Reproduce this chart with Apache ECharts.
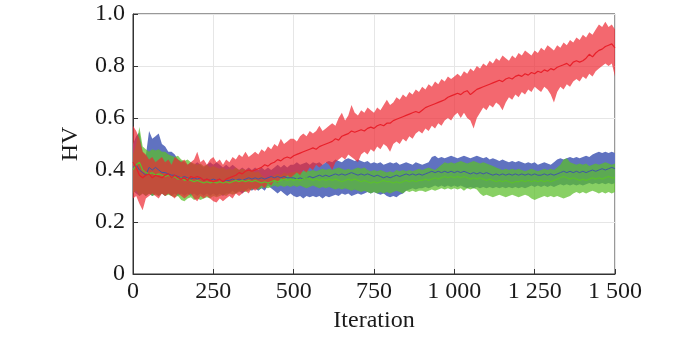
<!DOCTYPE html>
<html>
<head>
<meta charset="utf-8">
<script src="https://cdn.jsdelivr.net/npm/echarts@6/dist/echarts.min.js"></script>
<style>html,body{margin:0;padding:0;background:#fff;}#c{width:700px;height:338px;}</style>
</head>
<body>
<div id="c"></div>
<script>
// Sampling step of the iteration axis (one value every 10 iterations, 0..1500)
const iterStep = 10;
const xTicks = [0, 250, 500, 750, 1000, 1250, 1500];
const yTicks = [0, 0.2, 0.4, 0.6, 0.8, 1.0];

// Red series: upper bound, mean, lower bound
const redHi = [
0.57,0.55,0.52,0.47,0.46,0.44,0.45,0.43,0.44,0.45,
0.43,0.44,0.42,0.45,0.44,0.43,0.44,0.42,0.43,0.44,
0.47,0.43,0.44,0.42,0.44,0.45,0.43,0.44,0.42,0.44,
0.43,0.45,0.44,0.46,0.45,0.47,0.45,0.46,0.47,0.46,
0.48,0.47,0.49,0.48,0.50,0.49,0.52,0.50,0.51,0.52,
0.52,0.51,0.53,0.54,0.53,0.55,0.54,0.55,0.57,0.55,
0.56,0.57,0.58,0.57,0.60,0.62,0.59,0.61,0.65,0.62,
0.61,0.63,0.62,0.64,0.63,0.62,0.64,0.63,0.65,0.67,
0.65,0.66,0.68,0.67,0.69,0.68,0.70,0.69,0.71,0.70,
0.72,0.71,0.73,0.72,0.74,0.73,0.75,0.74,0.76,0.75,
0.76,0.77,0.76,0.78,0.77,0.79,0.78,0.80,0.79,0.81,
0.80,0.82,0.81,0.83,0.82,0.84,0.83,0.82,0.84,0.83,
0.85,0.84,0.86,0.85,0.84,0.86,0.85,0.87,0.86,0.88,
0.87,0.86,0.88,0.87,0.89,0.88,0.90,0.89,0.91,0.90,
0.92,0.91,0.93,0.92,0.94,0.96,0.95,0.97,0.95,0.96,
0.94];
const redMid = [
0.43,0.41,0.38,0.37,0.38,0.385,0.37,0.38,0.375,0.37,
0.38,0.385,0.37,0.38,0.37,0.365,0.37,0.36,0.375,0.37,
0.375,0.37,0.36,0.365,0.36,0.355,0.36,0.365,0.355,0.365,
0.37,0.375,0.38,0.39,0.385,0.395,0.40,0.395,0.40,0.405,
0.41,0.42,0.415,0.425,0.43,0.44,0.435,0.445,0.45,0.445,
0.455,0.46,0.465,0.47,0.475,0.48,0.485,0.48,0.49,0.495,
0.50,0.505,0.51,0.52,0.515,0.53,0.535,0.54,0.55,0.545,
0.55,0.555,0.55,0.56,0.565,0.56,0.57,0.575,0.57,0.58,
0.58,0.59,0.595,0.60,0.605,0.61,0.615,0.62,0.625,0.62,
0.63,0.64,0.645,0.65,0.655,0.66,0.665,0.67,0.68,0.685,
0.69,0.695,0.69,0.70,0.705,0.69,0.70,0.71,0.715,0.72,
0.725,0.73,0.735,0.74,0.745,0.74,0.75,0.755,0.75,0.76,
0.765,0.76,0.77,0.765,0.775,0.77,0.78,0.775,0.785,0.78,
0.79,0.785,0.795,0.80,0.805,0.81,0.80,0.815,0.82,0.815,
0.82,0.83,0.845,0.835,0.85,0.86,0.865,0.875,0.88,0.885,
0.87];
const redLo = [
0.29,0.30,0.27,0.245,0.29,0.30,0.31,0.30,0.29,0.31,
0.30,0.31,0.30,0.29,0.31,0.30,0.29,0.30,0.31,0.29,
0.28,0.30,0.29,0.30,0.29,0.28,0.275,0.29,0.28,0.29,
0.30,0.29,0.31,0.30,0.31,0.32,0.31,0.33,0.32,0.33,
0.34,0.33,0.35,0.34,0.36,0.35,0.37,0.36,0.38,0.37,
0.38,0.39,0.38,0.40,0.39,0.41,0.40,0.42,0.41,0.42,
0.43,0.42,0.40,0.43,0.44,0.45,0.44,0.46,0.45,0.44,
0.43,0.46,0.47,0.46,0.48,0.47,0.49,0.48,0.50,0.49,
0.47,0.50,0.51,0.50,0.52,0.51,0.53,0.52,0.54,0.55,
0.54,0.56,0.55,0.57,0.56,0.58,0.57,0.59,0.60,0.59,
0.61,0.62,0.60,0.62,0.60,0.59,0.56,0.60,0.62,0.64,
0.63,0.65,0.64,0.66,0.65,0.63,0.66,0.68,0.67,0.69,
0.68,0.70,0.69,0.71,0.70,0.72,0.71,0.70,0.72,0.71,
0.69,0.66,0.70,0.72,0.71,0.73,0.72,0.74,0.75,0.74,
0.76,0.75,0.77,0.76,0.78,0.79,0.80,0.81,0.80,0.81,
0.76];

// Blue series
const blueHi = [
0.50,0.53,0.545,0.47,0.455,0.55,0.52,0.53,0.54,0.50,
0.49,0.47,0.47,0.46,0.44,0.435,0.43,0.42,0.43,0.42,
0.43,0.42,0.41,0.42,0.43,0.42,0.43,0.42,0.41,0.42,
0.41,0.42,0.41,0.40,0.41,0.40,0.41,0.40,0.41,0.40,
0.41,0.40,0.41,0.40,0.41,0.42,0.41,0.42,0.41,0.42,
0.42,0.43,0.42,0.425,0.43,0.42,0.43,0.425,0.43,0.42,
0.43,0.435,0.43,0.44,0.435,0.43,0.44,0.445,0.44,0.435,
0.44,0.435,0.43,0.435,0.425,0.43,0.425,0.43,0.42,0.425,
0.43,0.425,0.43,0.42,0.425,0.43,0.425,0.42,0.43,0.425,
0.42,0.425,0.43,0.45,0.455,0.445,0.45,0.445,0.45,0.455,
0.45,0.445,0.45,0.455,0.45,0.445,0.45,0.455,0.45,0.445,
0.45,0.44,0.445,0.44,0.435,0.44,0.435,0.43,0.435,0.43,
0.435,0.43,0.425,0.43,0.425,0.43,0.42,0.425,0.43,0.425,
0.42,0.43,0.44,0.445,0.44,0.445,0.45,0.445,0.45,0.445,
0.45,0.455,0.45,0.46,0.465,0.47,0.465,0.47,0.465,0.47,
0.465];
const blueMid = [
0.41,0.42,0.40,0.39,0.38,0.41,0.40,0.41,0.40,0.39,
0.39,0.385,0.38,0.38,0.375,0.37,0.375,0.37,0.365,0.37,
0.365,0.37,0.36,0.365,0.36,0.365,0.36,0.365,0.355,0.36,
0.36,0.365,0.36,0.365,0.36,0.365,0.37,0.365,0.37,0.365,
0.37,0.365,0.37,0.375,0.37,0.375,0.37,0.375,0.37,0.37,
0.37,0.365,0.37,0.365,0.37,0.375,0.37,0.375,0.38,0.375,
0.38,0.375,0.38,0.385,0.38,0.385,0.38,0.385,0.39,0.385,
0.38,0.385,0.38,0.385,0.38,0.375,0.38,0.375,0.37,0.375,
0.37,0.375,0.38,0.375,0.38,0.385,0.38,0.385,0.38,0.385,
0.38,0.385,0.39,0.395,0.39,0.395,0.39,0.395,0.39,0.395,
0.39,0.395,0.39,0.395,0.39,0.385,0.39,0.385,0.39,0.385,
0.39,0.385,0.38,0.385,0.38,0.385,0.38,0.385,0.38,0.385,
0.38,0.385,0.38,0.385,0.38,0.385,0.38,0.38,0.385,0.38,
0.385,0.38,0.385,0.39,0.395,0.39,0.395,0.39,0.395,0.39,
0.395,0.39,0.395,0.40,0.395,0.40,0.405,0.40,0.405,0.41,
0.405];
const blueLo = [
0.32,0.31,0.30,0.31,0.30,0.31,0.30,0.31,0.30,0.31,
0.30,0.31,0.30,0.31,0.30,0.31,0.30,0.31,0.30,0.31,
0.30,0.31,0.30,0.31,0.30,0.31,0.30,0.31,0.30,0.31,
0.31,0.32,0.31,0.32,0.31,0.32,0.33,0.32,0.33,0.32,
0.33,0.32,0.34,0.33,0.32,0.31,0.32,0.31,0.30,0.31,
0.30,0.295,0.30,0.29,0.30,0.295,0.30,0.295,0.30,0.29,
0.30,0.295,0.30,0.305,0.30,0.31,0.305,0.31,0.30,0.305,
0.31,0.305,0.31,0.315,0.31,0.315,0.31,0.305,0.31,0.30,
0.295,0.30,0.295,0.305,0.31,0.32,0.325,0.33,0.325,0.33,
0.33,0.335,0.33,0.335,0.34,0.335,0.34,0.335,0.34,0.335,
0.34,0.335,0.34,0.335,0.33,0.335,0.33,0.335,0.33,0.335,
0.33,0.335,0.33,0.335,0.33,0.335,0.33,0.335,0.33,0.335,
0.33,0.335,0.33,0.335,0.34,0.335,0.34,0.335,0.34,0.335,
0.34,0.335,0.34,0.345,0.34,0.345,0.34,0.345,0.34,0.345,
0.34,0.345,0.35,0.345,0.35,0.345,0.35,0.345,0.35,0.345,
0.35];

// Green series
const greenHi = [
0.46,0.50,0.565,0.49,0.48,0.47,0.48,0.475,0.48,0.47,
0.47,0.46,0.455,0.45,0.455,0.44,0.435,0.44,0.43,0.425,
0.42,0.425,0.415,0.42,0.41,0.415,0.41,0.405,0.41,0.40,
0.405,0.40,0.41,0.40,0.405,0.40,0.395,0.40,0.39,0.395,
0.38,0.37,0.365,0.375,0.38,0.385,0.38,0.39,0.385,0.39,
0.39,0.395,0.39,0.395,0.40,0.395,0.40,0.395,0.40,0.405,
0.40,0.405,0.40,0.405,0.41,0.405,0.40,0.405,0.40,0.405,
0.41,0.405,0.41,0.40,0.395,0.40,0.395,0.40,0.395,0.39,
0.395,0.39,0.40,0.395,0.40,0.395,0.40,0.395,0.40,0.405,
0.40,0.405,0.41,0.405,0.40,0.41,0.42,0.43,0.425,0.43,
0.425,0.43,0.435,0.43,0.425,0.43,0.435,0.43,0.425,0.43,
0.425,0.42,0.415,0.41,0.405,0.40,0.405,0.40,0.405,0.40,
0.405,0.40,0.395,0.40,0.405,0.40,0.395,0.40,0.405,0.40,
0.405,0.40,0.41,0.42,0.44,0.445,0.43,0.425,0.42,0.425,
0.42,0.425,0.415,0.42,0.425,0.42,0.425,0.43,0.425,0.42,
0.425];
const greenMid = [
0.40,0.42,0.43,0.40,0.39,0.385,0.39,0.38,0.385,0.38,
0.375,0.38,0.37,0.375,0.365,0.37,0.36,0.365,0.36,0.355,
0.36,0.355,0.35,0.355,0.35,0.355,0.35,0.355,0.35,0.355,
0.35,0.355,0.36,0.355,0.36,0.355,0.36,0.355,0.36,0.355,
0.35,0.355,0.35,0.355,0.36,0.355,0.36,0.365,0.36,0.365,
0.36,0.365,0.36,0.365,0.37,0.365,0.36,0.365,0.36,0.365,
0.36,0.365,0.36,0.365,0.36,0.355,0.36,0.365,0.36,0.365,
0.36,0.355,0.36,0.355,0.35,0.355,0.35,0.355,0.36,0.355,
0.355,0.35,0.355,0.35,0.355,0.36,0.355,0.36,0.355,0.36,
0.36,0.365,0.36,0.365,0.37,0.365,0.37,0.375,0.37,0.375,
0.37,0.375,0.37,0.375,0.37,0.365,0.37,0.365,0.37,0.365,
0.36,0.365,0.36,0.355,0.36,0.355,0.36,0.355,0.35,0.355,
0.355,0.36,0.355,0.36,0.355,0.36,0.355,0.36,0.355,0.36,
0.355,0.36,0.365,0.37,0.375,0.37,0.365,0.37,0.365,0.36,
0.365,0.36,0.365,0.37,0.365,0.37,0.365,0.37,0.375,0.37,
0.37];
const greenLo = [
0.31,0.32,0.30,0.31,0.30,0.31,0.30,0.305,0.30,0.31,
0.30,0.305,0.30,0.295,0.30,0.285,0.28,0.29,0.295,0.285,
0.29,0.285,0.29,0.295,0.29,0.30,0.295,0.30,0.305,0.30,
0.31,0.305,0.31,0.315,0.32,0.315,0.32,0.325,0.33,0.325,
0.33,0.335,0.33,0.335,0.34,0.335,0.34,0.335,0.34,0.335,
0.34,0.335,0.34,0.335,0.33,0.335,0.34,0.335,0.33,0.335,
0.33,0.335,0.33,0.325,0.33,0.325,0.33,0.325,0.32,0.325,
0.32,0.315,0.32,0.315,0.31,0.315,0.31,0.315,0.31,0.315,
0.31,0.315,0.32,0.315,0.31,0.32,0.315,0.32,0.315,0.32,
0.32,0.315,0.32,0.325,0.32,0.325,0.33,0.325,0.33,0.325,
0.33,0.325,0.33,0.32,0.33,0.325,0.33,0.325,0.31,0.30,
0.305,0.30,0.295,0.30,0.305,0.30,0.295,0.30,0.305,0.30,
0.295,0.30,0.305,0.30,0.29,0.285,0.29,0.295,0.30,0.295,
0.30,0.295,0.30,0.295,0.29,0.295,0.30,0.31,0.315,0.31,
0.315,0.31,0.315,0.32,0.315,0.31,0.315,0.31,0.315,0.31,
0.315];

const xAxisName = 'Iteration';
const yAxisName = 'HV';

function pairs(arr) { return arr.map((v, i) => [i * iterStep, v]); }
function triples(hi, lo) { return hi.map((v, i) => [i * iterStep, lo[i], v]); }

// Band drawn as one polygon through the library's coordinate system
function band(name, hi, lo, color) {
  return {
    name: name, type: 'custom', silent: true, clip: true,
    encode: { x: 0, y: [1, 2] },
    data: triples(hi, lo),
    renderItem: function (params, api) {
      if (params.dataIndex !== 0) return null;
      const n = hi.length;
      const pts = [];
      for (let i = 0; i < n; i++) pts.push(api.coord([i * iterStep, hi[i]]));
      for (let i = n - 1; i >= 0; i--) pts.push(api.coord([i * iterStep, lo[i]]));
      return { type: 'polygon', shape: { points: pts }, style: { fill: color, stroke: null } };
    }
  };
}
function meanLine(name, arr, color, w) {
  return { name: name, type: 'line', data: pairs(arr), symbol: 'none',
    lineStyle: { color: color, width: w }, silent: true };
}

const font = '"Liberation Serif", "Times New Roman", serif';
const fs = 24;
const chart = echarts.init(document.getElementById('c'), null, { renderer: 'canvas' });
chart.setOption({
  animation: false,
  backgroundColor: '#fff',
  grid: { left: 133, right: 85, top: 14, bottom: 62, show: true, borderColor: '#333', borderWidth: 1, backgroundColor: 'transparent' },
  xAxis: {
    type: 'value', min: xTicks[0], max: xTicks[xTicks.length - 1], interval: xTicks[1] - xTicks[0],
    name: xAxisName, nameLocation: 'middle', nameGap: 35,
    nameTextStyle: { fontFamily: font, fontSize: fs, color: '#1a1a1a' },
    axisLine: { show: true, lineStyle: { color: '#333', width: 1 } },
    axisTick: { show: true, inside: true, length: 5, lineStyle: { color: '#333' } },
    axisLabel: { fontFamily: font, fontSize: fs, color: '#1a1a1a', margin: 6,
      formatter: v => v >= 1000 ? Math.floor(v / 1000) + ' ' + String(v % 1000).padStart(3, '0') : String(v) },
    splitLine: { show: true, lineStyle: { color: '#e6e6e6', width: 1 } }
  },
  yAxis: {
    type: 'value', min: yTicks[0], max: yTicks[yTicks.length - 1], interval: yTicks[1] - yTicks[0],
    name: yAxisName, nameLocation: 'middle', nameGap: 50, nameRotate: 90,
    nameTextStyle: { fontFamily: font, fontSize: fs, color: '#1a1a1a' },
    axisLine: { show: true, lineStyle: { color: '#333', width: 1 } },
    axisTick: { show: true, inside: true, length: 5, lineStyle: { color: '#333' } },
    axisLabel: { fontFamily: font, fontSize: fs, color: '#1a1a1a', margin: 8,
      formatter: v => v === 0 ? '0' : v.toFixed(1) },
    splitLine: { show: true, lineStyle: { color: '#e6e6e6', width: 1 } }
  },
  series: [
    band('blueBand', blueHi, blueLo, 'rgb(96,114,192)'),
    meanLine('blueMean', blueMid, '#3f55a8', 1),
    band('greenBand', greenHi, greenLo, 'rgba(90,190,40,0.72)'),
    meanLine('greenMean', greenMid, '#5cc02c', 1.2),
    band('redBand', redHi, redLo, 'rgba(238,40,50,0.7)'),
    meanLine('redMean', redMid, '#e8202a', 1.2)
  ]
});
</script>
</body>
</html>
